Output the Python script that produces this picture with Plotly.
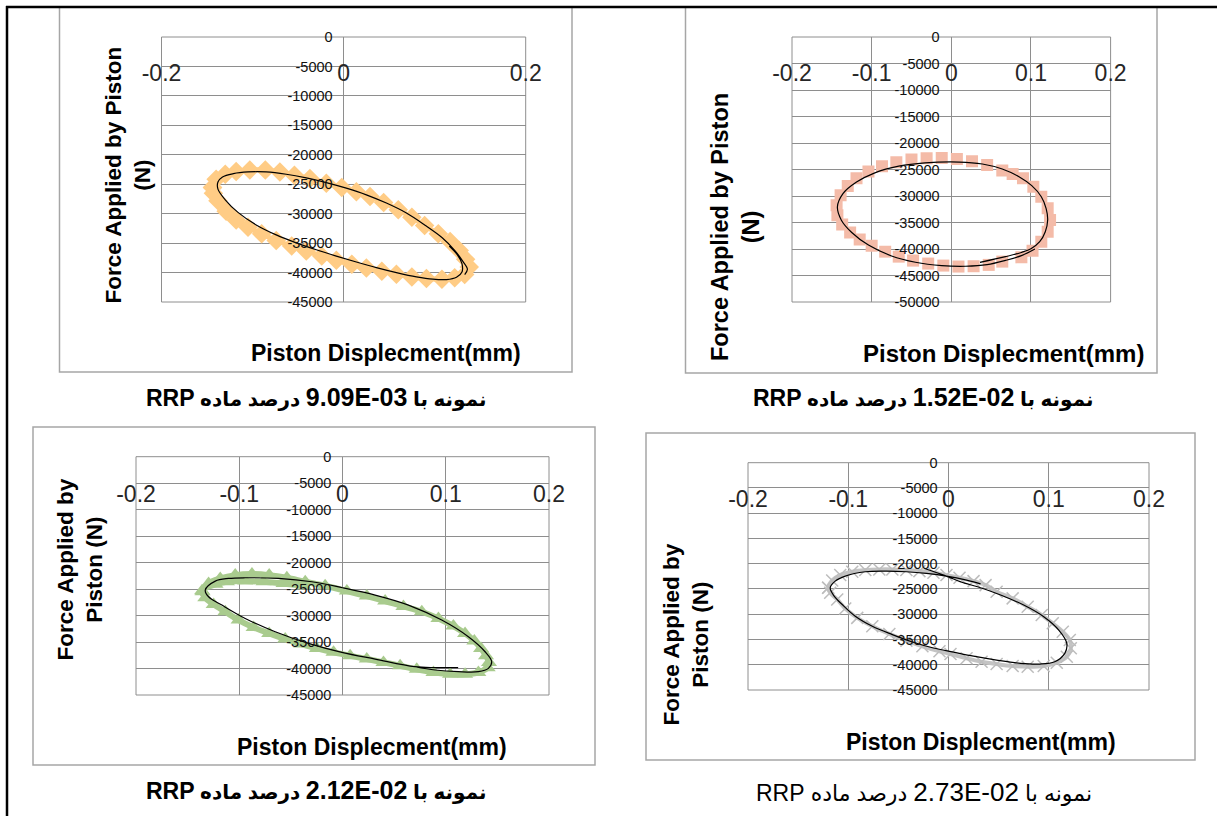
import plotly.graph_objects as go

W, H = 1217, 816

# ---------------- data: piston displacement (mm) / applied force (N) ----------------
# sample 9.09E-03 : measured points (diamonds) and fitted loop (black line)
disp_a_pts = [-0.144, -0.140, -0.130, -0.118, -0.103, -0.086, -0.070, -0.054, -0.037, -0.019,
              -0.002, 0.014, 0.029, 0.044, 0.060, 0.075, 0.089, 0.104, 0.117, 0.127,
              0.134, 0.138, 0.133, 0.122, 0.108, 0.091, 0.075, 0.058, 0.042, 0.025,
              0.009, -0.008, -0.024, -0.041, -0.057, -0.074, -0.090, -0.105, -0.118, -0.129,
              -0.138, -0.143, -0.144]
force_a_pts = [-25560, -24160, -23310, -22860, -22580, -22580, -22920, -23480, -24040, -24830,
               -25560, -26290, -27080, -28090, -29330, -30620, -32030, -33430, -34720, -36240,
               -37760, -39050, -40340, -40900, -41130, -41020, -40740, -40290, -39780, -39220,
               -38600, -37930, -37200, -36350, -35510, -34550, -33430, -32310, -31070, -29610,
               -27810, -26520, -25560]
disp_a_fit = [0.116, 0.125, 0.130, 0.130, 0.124, 0.113, 0.098, 0.080, 0.058, 0.036,
              0.014, -0.008, -0.030, -0.052, -0.074, -0.096, -0.116, -0.130, -0.138, -0.138,
              -0.133, -0.121, -0.105, -0.085, -0.063, -0.041, -0.019, 0.003, 0.025, 0.047,
              0.069, 0.089, 0.108, 0.122, 0.131, 0.136, 0.133]
force_a_fit = [-35500, -37000, -38500, -39900, -40790, -41190, -41130, -40740, -40010, -39160,
               -38210, -37200, -36130, -34950, -33600, -31910, -29780, -27640, -25840, -24610,
               -23760, -23200, -22920, -22920, -23310, -23930, -24720, -25670, -26800, -28200,
               -29890, -31910, -34050, -36240, -38090, -39440, -40340]

# sample 1.52E-02 : squares
disp_b_pts = [0.064, 0.045, 0.026, 0.007, -0.012, -0.031, -0.050, -0.069, -0.087, -0.104,
              -0.119, -0.130, -0.139, -0.144, -0.143, -0.137, -0.127, -0.115, -0.100, -0.083,
              -0.066, -0.048, -0.029, -0.010, 0.009, 0.028, 0.047, 0.064, 0.077, 0.090,
              0.103, 0.113, 0.121, 0.124, 0.121, 0.113, 0.102, 0.088]
force_b_pts = [-25190, -24130, -23440, -23000, -22810, -22880, -23130, -23630, -24380, -25380,
               -26630, -28130, -29880, -31750, -33630, -35380, -36880, -38190, -39380, -40500,
               -41440, -42190, -42750, -43130, -43310, -43250, -43000, -42380, -25850, -26670,
               -28240, -30130, -32330, -34530, -36740, -38620, -40320, -41570]
disp_b_fit = [0.036, 0.068, 0.088, 0.100, 0.111, 0.118, 0.121, 0.119, 0.113, 0.101,
              0.085, 0.064, 0.039, 0.010, -0.033, -0.066, -0.096, -0.119, -0.136, -0.143,
              -0.138, -0.125, -0.104, -0.075, -0.045, -0.012, 0.018, 0.045, 0.068, 0.088,
              0.105]
force_b_fit = [-42520, -41450, -40650, -39950, -38620, -36740, -34530, -32330, -30130, -28050,
               -26360, -24910, -23960, -23590, -23750, -24380, -25630, -27380, -29560, -32060,
               -34560, -36880, -39250, -41310, -42500, -43130, -43250, -42950, -42150, -41250,
               -40000]

# sample 2.12E-02 : triangles
disp_c_pts = [-0.1355, -0.1297, -0.1184, -0.1039, -0.0877, -0.0710, -0.0539, -0.0361, -0.0168, 0.0042,
              0.0235, 0.0413, 0.0590, 0.0768, 0.0929, 0.1074, 0.1187, 0.1277, 0.1342, 0.1390,
              0.1419, 0.1406, 0.1316, 0.1187, 0.1042, 0.0881, 0.0719, 0.0558, 0.0397, 0.0235,
              0.0074, -0.0087, -0.0248, -0.0400, -0.0555, -0.0710, -0.0861, -0.1006, -0.1135, -0.1248,
              -0.1329, -0.1360, -0.1230, -0.1119, -0.0942, -0.0765, -0.0571, -0.0377]
force_c_pts = [-25500, -23930, -22990, -22360, -22170, -22360, -22860, -23620, -24370, -25380,
               -26320, -27260, -28270, -29280, -30540, -31980, -33370, -34810, -36200, -37580,
               -38840, -39840, -40730, -41100, -41100, -40730, -40160, -39470, -38840, -38210,
               -37580, -36950, -36200, -35380, -34440, -33370, -32230, -30850, -29280, -27890,
               -26640, -25300, -24100, -23620, -23490, -23620, -23930, -24370]
disp_c_fit = [0.112, 0.090, 0.070, 0.0316, -0.0006, -0.0329, -0.0652, -0.0942, -0.1168, -0.1297,
              -0.1329, -0.1232, -0.1103, -0.0942, -0.0619, -0.0297, 0.0000, 0.0316, 0.0639, 0.0961,
              0.1219, 0.1381, 0.1445, 0.1413, 0.1316, 0.1123, 0.0897, 0.0703]
force_c_fit = [-39840, -39820, -39650, -38210, -36950, -35250, -33050, -30540, -28020, -26450,
               -25190, -23490, -22990, -22860, -22990, -23620, -24750, -26130, -28020, -30850,
               -34000, -36830, -38710, -39970, -40600, -40600, -40280, -39660]

# sample 2.73E-02 : crosses joined by a light line
disp_d_pts = [-0.120, -0.116, -0.108, -0.096, -0.083, -0.069, -0.056, -0.042, -0.029, -0.015,
              -0.002, 0.011, 0.025, 0.037, 0.048, 0.064, 0.079, 0.093, 0.104, 0.114,
              0.121, 0.122, 0.118, 0.108, 0.095, 0.079, 0.064, 0.048, 0.033, 0.018,
              0.002, -0.009, -0.026, -0.042, -0.059, -0.076, -0.091, -0.103, -0.111, -0.118,
              -0.120]
force_d_pts = [-24770, -23310, -22250, -21590, -21260, -21130, -21130, -21260, -21460, -21790,
               -22250, -22780, -23440, -24240, -25540, -26860, -28510, -30160, -31800, -33460,
               -35110, -36750, -38410, -39600, -40250, -40390, -40250, -39860, -39400, -38730,
               -37880, -37340, -36350, -35230, -33900, -32380, -30720, -28870, -27080, -25760,
               -24770]
disp_d_fit = [-0.024, -0.004, 0.016, 0.029, 0.052, 0.075, 0.095, 0.110, 0.118, 0.116,
              0.106, 0.091, 0.072, 0.048, 0.025, 0.005, -0.015, -0.036, -0.056, -0.076,
              -0.093, -0.106, -0.114, -0.118, -0.113, -0.103, -0.083, -0.062, -0.042, -0.022,
              -0.002, 0.018, 0.032]
force_d_fit = [-20950, -22300, -23850, -24550, -26190, -28180, -30490, -33130, -35760, -37740,
               -39400, -39860, -39720, -39070, -38300, -37500, -36680, -35490, -34030, -32380,
               -30390, -28080, -26420, -24770, -23440, -22450, -21590, -21460, -21590, -21920,
               -22450, -23250, -24000]

# axis ticks
x_ticks_coarse = [-0.2, 0, 0.2]
x_text_coarse = ["-0.2", "0", "0.2"]
x_ticks_fine = [-0.2, -0.1, 0, 0.1, 0.2]
x_text_fine = ["-0.2", "-0.1", "0", "0.1", "0.2"]
y_ticks_45 = [0, -5000, -10000, -15000, -20000, -25000, -30000, -35000, -40000, -45000]
y_ticks_50 = [0, -5000, -10000, -15000, -20000, -25000, -30000, -35000, -40000, -45000, -50000]

captions = [
    ("9.09E-03", True),
    ("1.52E-02", True),
    ("2.12E-02", True),
    ("2.73E-02", False),
]
y_titles = [
    "Force Applied by Piston<br>(N)",
    "Force Applied by Piston<br>(N)",
    "Force Applied by<br>Piston (N)",
    "Force Applied by<br>Piston (N)",
]
x_title = "Piston Displecment(mm)"

# ---------------- page geometry (pixels) ----------------
GRID = "#8E8E8E"
BOX = "#A6A6A6"
LATIN = "Liberation Sans, Arial, DejaVu Sans"

panels = [
    dict(plot=(161.5, 37, 525.7, 302), box=(59.5, 7, 572, 372), x0=343.6, xlab=71,
         xt=(x_ticks_coarse, x_text_coarse), yt=y_ticks_45,
         mx=disp_a_pts, my=force_a_pts, lx=disp_a_fit, ly=force_a_fit,
         marker=dict(symbol="diamond", size=15, color="#FFCC85", line=dict(width=0)),
         band="#FFCC85", band_w=5, mode="lines+markers",
         ytitle=(127.5, 175), xtitle=(385.8, 353), cap=(316.5, 397), tsize=23),
    dict(plot=(792, 37, 1110.6, 302), box=(685.5, 7, 1157, 373), x0=950.7, xlab=71,
         xt=(x_ticks_fine, x_text_fine), yt=y_ticks_50,
         mx=disp_b_pts, my=force_b_pts, lx=disp_b_fit, ly=force_b_fit,
         marker=dict(symbol="square", size=12, color="#F4BBA8", line=dict(width=0)),
         band="#F4BBA8", band_w=0, mode="markers",
         ytitle=(735, 227), xtitle=(1003.5, 353), cap=(923.6, 397), tsize=24),
    dict(plot=(136, 456.7, 549, 695), box=(33, 427, 595, 765), x0=342.4, xlab=492,
         xt=(x_ticks_fine, x_text_fine), yt=y_ticks_45,
         mx=disp_c_pts, my=force_c_pts, lx=disp_c_fit, ly=force_c_fit,
         marker=dict(symbol="triangle-up", size=14, color="#A9CB8E", line=dict(width=0)),
         band="#A9CB8E", band_w=6, mode="lines+markers",
         ytitle=(79.5, 570), xtitle=(371.6, 747), cap=(316.5, 790), tsize=23),
    dict(plot=(748, 462.7, 1149, 690), box=(646, 433, 1195, 760), x0=948.7, xlab=497,
         xt=(x_ticks_fine, x_text_fine), yt=y_ticks_45,
         mx=disp_d_pts, my=force_d_pts, lx=disp_d_fit, ly=force_d_fit,
         marker=dict(symbol="x-thin", size=12, color="#BDBDBD", line=dict(width=1.5, color="#BDBDBD")),
         band="#C4C4C4", band_w=4, mode="lines+markers",
         ytitle=(685.5, 635), xtitle=(980.5, 742), cap=(923.6, 792), tsize=23),
]


def fx(px):
    return px / W


def fy(py):
    return 1 - py / H


fig = go.Figure()
layout = dict(width=W, height=H, margin=dict(l=0, r=0, t=0, b=0, autoexpand=False),
              paper_bgcolor="white", plot_bgcolor="white", showlegend=False)
shapes = []
annotations = []

for i, p in enumerate(panels, start=1):
    sfx = "" if i == 1 else str(i)
    xa, ya = "x" + sfx, "y" + sfx
    l, t, r, b = p["plot"]

    fig.add_trace(go.Scatter(
        x=p["mx"], y=p["my"], mode=p["mode"], marker=p["marker"],
        line=dict(color=p["band"], width=max(p["band_w"], 1), shape="spline"),
        xaxis=xa, yaxis=ya, hoverinfo="skip"))
    fig.add_trace(go.Scatter(
        x=p["lx"], y=p["ly"], mode="lines",
        line=dict(color="black", width=1.2, shape="spline", smoothing=1.0),
        xaxis=xa, yaxis=ya, hoverinfo="skip"))

    xt_vals, xt_text = p["xt"]
    # horizontal axis: labels hang a little below the top edge of the plot area
    layout["xaxis" + sfx] = dict(
        domain=[fx(l), fx(r)], range=[-0.2, 0.2], anchor="free",
        position=fy(p["xlab"] - 14), side="bottom", automargin=False,
        tickvals=xt_vals, ticktext=xt_text, ticks="",
        tickfont=dict(family=LATIN, size=23, color="#262626"),
        showgrid=True, gridcolor=GRID, gridwidth=1, zeroline=False, showline=False,
        fixedrange=True)
    # vertical axis sits on displacement = 0
    layout["yaxis" + sfx] = dict(
        domain=[fy(b), fy(t)], range=[p["yt"][-1], 0], anchor="free", position=fx(p["x0"]),
        side="left", automargin=False, tickvals=p["yt"],
        ticktext=[str(v) for v in p["yt"]], ticks="",
        ticklabelstandoff=11,
        tickfont=dict(family=LATIN, size=14.5, color="#111111"),
        showgrid=True, gridcolor=GRID, gridwidth=1, zeroline=False, showline=False,
        fixedrange=True)

    # plot-area frame
    shapes.append(dict(type="rect", xref=xa + " domain", yref=ya + " domain",
                       x0=0, x1=1, y0=0, y1=1, line=dict(color=GRID, width=1), layer="below"))
    # chart frame
    bl, bt, br, bb = p["box"]
    shapes.append(dict(type="rect", xref="paper", yref="paper",
                       x0=fx(bl), x1=fx(br), y0=fy(bb), y1=fy(bt),
                       line=dict(color=BOX, width=1.5)))

    ts = p["tsize"]
    annotations.append(dict(
        text="<b>" + y_titles[i - 1] + "</b>", textangle=-90, showarrow=False,
        xref="paper", yref="paper", x=fx(p["ytitle"][0]), y=fy(p["ytitle"][1]),
        xanchor="center", yanchor="middle",
        font=dict(family=LATIN, size=ts - 0.5, color="black")))
    annotations.append(dict(
        text="<b>" + x_title + "</b>", showarrow=False,
        xref="paper", yref="paper", x=fx(p["xtitle"][0]), y=fy(p["xtitle"][1]),
        xanchor="center", yanchor="middle",
        font=dict(family=LATIN, size=ts, color="black")))

    # right-to-left caption; embedding marks kept inside the styled runs
    code, bold = captions[i - 1]
    if bold:
        cap = ("<b>\u202bنمونه با <span style='font-size:25px'>" + code +
               "</span> درصد ماده <span style='font-size:23px'>RRP\u202c</span></b>")
        cap_size = 20
    else:
        cap = ("\u202bنمونه با <span style='font-size:26px'>" + code +
               "</span> درصد ماده <span style='font-size:23px'>RRP\u202c</span>")
        cap_size = 22
    annotations.append(dict(
        text=cap, showarrow=False, xref="paper", yref="paper",
        x=fx(p["cap"][0]), y=fy(p["cap"][1]), xanchor="center", yanchor="middle",
        font=dict(family=LATIN, size=cap_size, color="black")))

# table rules
shapes.append(dict(type="line", xref="paper", yref="paper", x0=fx(7), x1=fx(7),
                   y0=0, y1=fy(6), line=dict(color="black", width=2.5)))
shapes.append(dict(type="line", xref="paper", yref="paper", x0=fx(6), x1=1,
                   y0=fy(7), y1=fy(7), line=dict(color="black", width=2.5)))

layout["shapes"] = shapes
layout["annotations"] = annotations
fig.update_layout(**layout)

fig.write_html("out.html")
